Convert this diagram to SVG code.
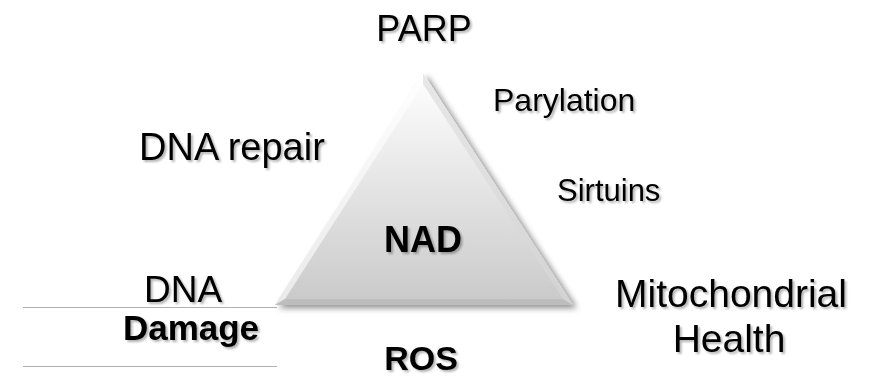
<svg xmlns="http://www.w3.org/2000/svg" width="877" height="377" viewBox="0 0 877 377">
<style>
text{font-family:"Liberation Sans",Arial,sans-serif;fill:#000;filter:url(#ts)}
.b{font-weight:bold}
.line{stroke:#b0b0b0;stroke-width:1.2}
</style>
<defs>
<linearGradient id="g" x1="0" y1="0" x2="0" y2="1">
<stop offset="0" stop-color="#ffffff"/>
<stop offset="1" stop-color="#c9c9c9"/>
</linearGradient>
<filter id="sh" x="-20%" y="-20%" width="140%" height="140%">
<feGaussianBlur in="SourceAlpha" stdDeviation="3"/>
<feOffset dx="4" dy="3"/>
<feComponentTransfer><feFuncA type="linear" slope="0.45"/></feComponentTransfer>
<feMerge><feMergeNode/><feMergeNode in="SourceGraphic"/></feMerge>
</filter>
<filter id="ts" x="-10%" y="-20%" width="120%" height="140%">
<feGaussianBlur in="SourceAlpha" stdDeviation="1"/>
<feOffset dx="1.5" dy="1.5"/>
<feComponentTransfer><feFuncA type="linear" slope="0.3"/></feComponentTransfer>
<feMerge><feMergeNode/><feMergeNode in="SourceGraphic"/></feMerge>
</filter>
</defs>
<g id="triangle">
<polygon points="423,73 275,305 573,305" fill="url(#g)" filter="url(#sh)"/>
<polygon points="423,73 275,305 285,299 423,84" fill="#ffffff" opacity="0.6"/>
<polygon points="275,305 573,305 563,299 285,299" fill="#b8b8b8" opacity="0.7"/>
<polygon points="423,73 573,305 563,299 423,84" fill="#d8d8d8" opacity="0.6"/>
<text class="b" x="423" y="252" font-size="36" text-anchor="middle">NAD</text>
</g>
<g id="lines">
<line class="line" x1="23" y1="307.5" x2="277" y2="307.5"/>
<line class="line" x1="23" y1="366.5" x2="277" y2="366.5"/>
</g>
<g id="parp"><text x="424" y="41" font-size="36" text-anchor="middle">PARP</text></g>
<g id="parylation"><text x="493" y="111" font-size="32">Parylation</text></g>
<g id="dnarepair"><text x="139" y="160" font-size="38">DNA repair</text></g>
<g id="sirtuins"><text x="557" y="201" font-size="31">Sirtuins</text></g>
<g id="dna"><text x="183" y="302" font-size="37" text-anchor="middle">DNA</text></g>
<g id="damage"><text class="b" x="191" y="340" font-size="35" text-anchor="middle">Damage</text></g>
<g id="ros"><text class="b" x="421" y="370" font-size="34" text-anchor="middle">ROS</text></g>
<g id="mito"><text x="731" y="307" font-size="39" text-anchor="middle">Mitochondrial</text>
<text x="729" y="352" font-size="39" text-anchor="middle">Health</text></g>
</svg>
